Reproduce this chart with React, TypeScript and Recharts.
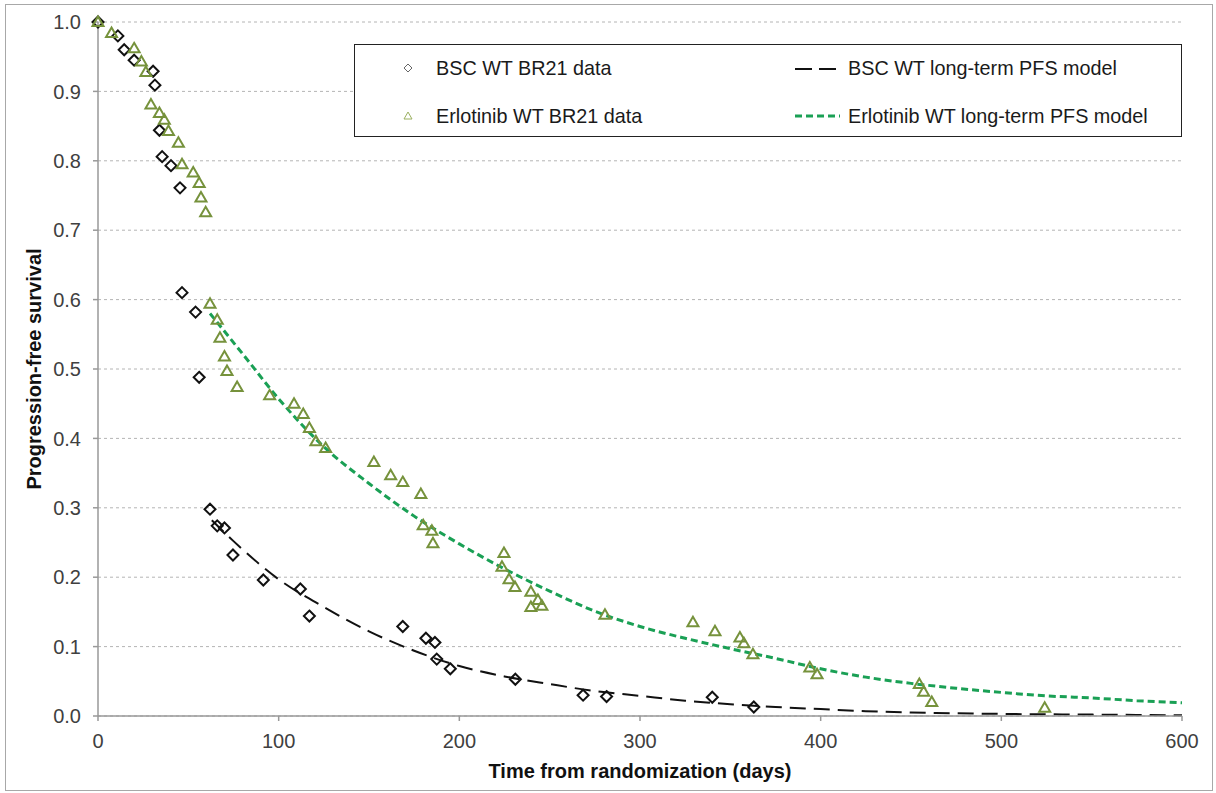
import { ComposedChart, Line, Scatter, XAxis, YAxis, CartesianGrid } from 'recharts'

const bscDays = [0, 11, 14.5, 20, 30.5, 31.5, 34, 35.5, 40.4, 45.4, 46.5, 54, 56, 62, 66, 70, 74.7, 91.5, 112, 117, 168.7, 181.5, 186.5, 187.5, 195, 231, 268.5, 281.5, 340, 363]
const bscPfs = [1.0, 0.98, 0.96, 0.945, 0.929, 0.909, 0.844, 0.806, 0.793, 0.761, 0.61, 0.582, 0.488, 0.298, 0.274, 0.271, 0.232, 0.196, 0.183, 0.144, 0.129, 0.112, 0.106, 0.082, 0.068, 0.053, 0.03, 0.028, 0.027, 0.013]

const erlDays = [0, 7.5, 20, 24, 26.5, 29.3, 34, 36.7, 39, 44.5, 46.5, 52.7, 56, 57, 59.6, 62, 66, 67.5, 70, 71.4, 77, 95, 108.5, 113.6, 117, 120.6, 126, 152.7, 162, 168.7, 178.7, 180, 184.8, 185.4, 224.7, 223.6, 227.5, 230.8, 239.6, 239.6, 243.5, 245.7, 280.6, 329.3, 341.5, 355.3, 357.5, 362.5, 394, 398, 454.6, 457, 461.5, 524]
const erlPfs = [1.0, 0.984, 0.962, 0.943, 0.928, 0.881, 0.869, 0.859, 0.843, 0.826, 0.795, 0.783, 0.768, 0.747, 0.726, 0.594, 0.571, 0.545, 0.518, 0.497, 0.474, 0.462, 0.45, 0.435, 0.415, 0.396, 0.386, 0.366, 0.347, 0.337, 0.32, 0.275, 0.267, 0.249, 0.235, 0.215, 0.197, 0.186, 0.179, 0.157, 0.167, 0.159, 0.146, 0.135, 0.122, 0.113, 0.105, 0.089, 0.07, 0.06, 0.046, 0.035, 0.02, 0.012]

// model curves
const bscModelDays = [63, 75, 100, 125, 150, 175, 200, 225, 250, 275, 300, 325, 350, 375, 400, 425, 450, 475, 500, 550, 600]
const bscModelPfs = [0.282, 0.252, 0.197, 0.157, 0.122, 0.094, 0.072, 0.057, 0.046, 0.036, 0.029, 0.022, 0.017, 0.013, 0.01, 0.007, 0.005, 0.004, 0.003, 0.002, 0.001]

const erlModelDays = [62, 80, 100, 125, 150, 175, 200, 225, 250, 275, 300, 325, 350, 375, 400, 425, 450, 475, 500, 525, 550, 575, 600]
const erlModelPfs = [0.58, 0.522, 0.457, 0.388, 0.335, 0.288, 0.248, 0.212, 0.18, 0.151, 0.129, 0.112, 0.097, 0.083, 0.068, 0.056, 0.047, 0.04, 0.034, 0.029, 0.026, 0.022, 0.019]

const xTicks = [0, 100, 200, 300, 400, 500, 600]
const yTicks = [0, 0.1, 0.2, 0.3, 0.4, 0.5, 0.6, 0.7, 0.8, 0.9, 1.0]

const zip = (days: number[], vals: number[]) => days.map((day, i) => ({ day, pfs: vals[i] }))

const bscData = zip(bscDays, bscPfs)
const erlData = zip(erlDays, erlPfs)
const bscModel = zip(bscModelDays, bscModelPfs)
const erlModel = zip(erlModelDays, erlModelPfs)

const FONT = "'Liberation Sans', Arial, sans-serif"
const OLIVE = '#76923c'
const GREEN = '#1aa055'

const Diamond = (props: any) => {
  const { cx, cy } = props
  const r = 5.5
  return <path d={`M${cx},${cy - r}L${cx + r},${cy}L${cx},${cy + r}L${cx - r},${cy}Z`} fill="none" stroke="#111" strokeWidth={2} />
}

const Triangle = (props: any) => {
  const { cx, cy } = props
  return <path d={`M${cx},${cy - 5.5}L${cx + 5.5},${cy + 4}L${cx - 5.5},${cy + 4}Z`} fill="none" stroke={OLIVE} strokeWidth={2} />
}

function ChartLegend() {
  const text = { position: 'absolute' as const, fontSize: 19.8, color: '#1a1a1a', fontFamily: FONT, lineHeight: '22px', whiteSpace: 'nowrap' as const }
  return (
    <div style={{ position: 'absolute', left: 354, top: 44, width: 828, height: 93, border: '1px solid #222', background: '#fff', boxSizing: 'border-box' }}>
      <svg width={828} height={93} style={{ position: 'absolute', left: 0, top: 0 }}>
        <path d="M53,19L57,23L53,27L49,23Z" fill="none" stroke="#666" strokeWidth={1} />
        <path d="M53,67L57,74L49,74Z" fill="none" stroke="#9bb060" strokeWidth={1} />
        <line x1={440} x2={481} y1={24} y2={24} stroke="#111" strokeWidth={2} strokeDasharray="17 7" />
        <line x1={440} x2={485} y1={71} y2={71} stroke={GREEN} strokeWidth={3} strokeDasharray="7 4" />
      </svg>
      <span style={{ ...text, left: 81, top: 12 }}>BSC WT BR21 data</span>
      <span style={{ ...text, left: 81, top: 60 }}>Erlotinib WT BR21 data</span>
      <span style={{ ...text, left: 493, top: 12 }}>BSC WT long-term PFS model</span>
      <span style={{ ...text, left: 493, top: 60 }}>Erlotinib WT long-term PFS model</span>
    </div>
  )
}

export default function App() {
  return (
    <div style={{ position: 'absolute', left: 0, top: 0, width: 1216, height: 793, background: '#fff', fontFamily: FONT }}>
      <div style={{ position: 'absolute', left: 5, top: 4, width: 1208, height: 787, border: '1px solid #a8a8a8', boxSizing: 'border-box' }} />
      <ComposedChart width={1216} height={793} margin={{ top: 22, right: 34, bottom: 7, left: 0 }}>
        <CartesianGrid vertical={false} strokeDasharray="3 3" stroke="#b4b4b4" />
        <XAxis
          dataKey="day"
          type="number"
          domain={[0, 600]}
          ticks={xTicks}
          height={70}
          tickSize={5}
          tickMargin={13}
          stroke="#999"
          strokeWidth={1.5}
          tick={{ fontSize: 20, fill: '#404040', fontFamily: FONT }}
          label={{ value: 'Time from randomization (days)', position: 'insideBottom', offset: 8, style: { fontSize: 20, fontWeight: 'bold', fill: '#111', fontFamily: FONT } }}
        />
        <YAxis
          dataKey="pfs"
          type="number"
          domain={[0, 1]}
          ticks={yTicks}
          width={98}
          tickSize={5}
          tickMargin={12}
          stroke="#999"
          strokeWidth={1.5}
          tickFormatter={(v: number) => v.toFixed(1)}
          tick={{ fontSize: 20, fill: '#404040', fontFamily: FONT }}
          label={{ value: 'Progression-free survival', angle: -90, position: 'insideLeft', offset: 34, style: { fontSize: 20, fontWeight: 'bold', fill: '#111', textAnchor: 'middle', fontFamily: FONT } }}
        />
        <Scatter name="BSC WT BR21 data" data={bscData} dataKey="pfs" shape={Diamond} isAnimationActive={false} />
        <Scatter name="Erlotinib WT BR21 data" data={erlData} dataKey="pfs" shape={Triangle} isAnimationActive={false} />
        <Line name="BSC WT long-term PFS model" data={bscModel} dataKey="pfs" type="monotone" stroke="#111" strokeWidth={2} strokeDasharray="16 8" dot={false} activeDot={false} isAnimationActive={false} />
        <Line name="Erlotinib WT long-term PFS model" data={erlModel} dataKey="pfs" type="monotone" stroke={GREEN} strokeWidth={3} strokeDasharray="7 4" dot={false} activeDot={false} isAnimationActive={false} />
      </ComposedChart>
      <ChartLegend />
    </div>
  )
}
